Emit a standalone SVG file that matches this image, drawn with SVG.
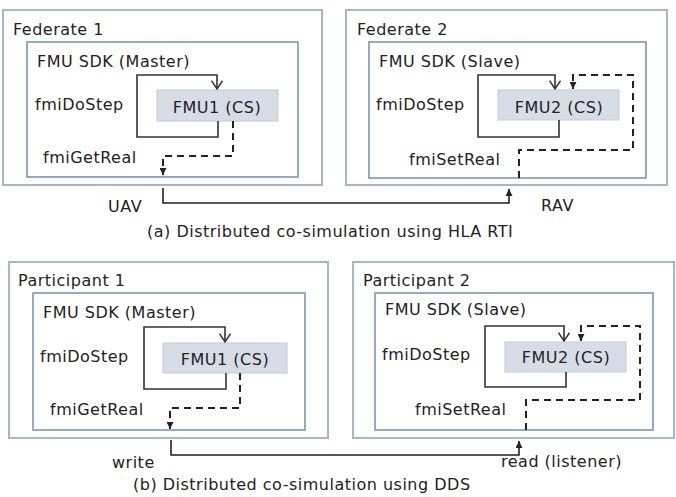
<svg xmlns="http://www.w3.org/2000/svg" width="676" height="497" viewBox="0 0 676 497">
<defs>
<style>
text{font-family:"DejaVu Sans","Noto Sans",sans-serif;font-size:16px;letter-spacing:0.5px;fill:#222}
.outer{fill:#fff;stroke:#a5b6c6;stroke-width:2}
.inner{fill:#fff;stroke:#7b97b2;stroke-width:1.6}
.fmu{fill:#d7dde6;stroke:#c4ccd8;stroke-width:1}
.loop{fill:none;stroke:#333;stroke-width:1.6}
.dash{fill:none;stroke:#222;stroke-width:2;stroke-dasharray:7,5}
.link{fill:none;stroke:#222;stroke-width:1.6}
</style>
<marker id="open" viewBox="0 0 12 14" refX="10" refY="7" markerWidth="11" markerHeight="13" markerUnits="userSpaceOnUse" orient="auto">
<path d="M1,1 L10,7 L1,13" fill="none" stroke="#333" stroke-width="1.6"/>
</marker>
<marker id="tri" viewBox="0 0 8 8" refX="8" refY="4" markerWidth="7" markerHeight="7" markerUnits="userSpaceOnUse" orient="auto">
<path d="M0,0 L8,4 L0,8 Z" fill="#222"/>
</marker>
</defs>
<rect width="676" height="497" fill="#fff"/>

<g id="federate1">
<rect class="outer" x="3" y="10" width="319" height="175"/>
<text x="13" y="35">Federate 1</text>
<g id="sdk-master-a">
<rect class="inner" x="27" y="42" width="271" height="135"/>
<text x="37" y="67">FMU SDK (Master)</text>
<text x="35" y="110">fmiDoStep</text>
<text x="43" y="163">fmiGetReal</text>
</g>
<g id="fmu1-a">
<rect class="fmu" x="157" y="90" width="121" height="31"/>
<text x="217" y="113" text-anchor="middle">FMU1 (CS)</text>
</g>
</g>

<g id="federate2">
<rect class="outer" x="346" y="10" width="321" height="175"/>
<text x="357" y="35">Federate 2</text>
<g id="sdk-slave-a">
<rect class="inner" x="369" y="42" width="277" height="136"/>
<text x="379" y="67">FMU SDK (Slave)</text>
<text x="376" y="110">fmiDoStep</text>
<text x="409" y="165">fmiSetReal</text>
</g>
<g id="fmu2-a">
<rect class="fmu" x="498" y="90" width="121" height="30"/>
<text x="559" y="113" text-anchor="middle">FMU2 (CS)</text>
</g>
</g>

<g id="participant1">
<rect class="outer" x="9" y="262" width="319" height="176"/>
<text x="18" y="286">Participant 1</text>
<g id="sdk-master-b">
<rect class="inner" x="33" y="293" width="272" height="137"/>
<text x="43" y="318">FMU SDK (Master)</text>
<text x="40" y="362">fmiDoStep</text>
<text x="50" y="415">fmiGetReal</text>
</g>
<g id="fmu1-b">
<rect class="fmu" x="163" y="343" width="124" height="30"/>
<text x="225" y="365" text-anchor="middle">FMU1 (CS)</text>
</g>
</g>

<g id="participant2">
<rect class="outer" x="353" y="262" width="321" height="176"/>
<text x="363" y="286">Participant 2</text>
<g id="sdk-slave-b">
<rect class="inner" x="375" y="293" width="278" height="137"/>
<text x="385" y="315">FMU SDK (Slave)</text>
<text x="382" y="360">fmiDoStep</text>
<text x="415" y="415">fmiSetReal</text>
</g>
<g id="fmu2-b">
<rect class="fmu" x="505" y="342" width="121" height="30"/>
<text x="566" y="363" text-anchor="middle">FMU2 (CS)</text>
</g>
</g>

<g id="connectors">
<path class="loop" d="M218,121 V137 H137 V75 H217 V89" marker-end="url(#open)"/>
<path class="dash" d="M233,121 V156 H163 V175" marker-end="url(#tri)"/>
<path class="link" d="M163,188 V203 H509 V189" marker-end="url(#tri)"/>
<path class="loop" d="M559,120 V137 H478 V75 H555 V89" marker-end="url(#open)"/>
<path class="dash" d="M519,178 V150 H633 V75 H573 V89" marker-end="url(#tri)"/>

<path class="loop" d="M226,373 V389 H144 V327 H225 V342" marker-end="url(#open)"/>
<path class="dash" d="M240,373 V408 H170 V429" marker-end="url(#tri)"/>
<path class="link" d="M171,440 V455 H519 V441" marker-end="url(#tri)"/>
<path class="loop" d="M566,372 V387 H485 V326 H564 V341" marker-end="url(#open)"/>
<path class="dash" d="M526,430 V400 H640 V326 H581 V341" marker-end="url(#tri)"/>
</g>

<g id="labels">
<text x="108" y="212">UAV</text>
<text x="541" y="211">RAV</text>
<text x="147" y="237">(a) Distributed co-simulation using HLA RTI</text>
<text x="112" y="468">write</text>
<text x="501" y="467">read (listener)</text>
<text x="133" y="490">(b) Distributed co-simulation using DDS</text>
</g>
</svg>
